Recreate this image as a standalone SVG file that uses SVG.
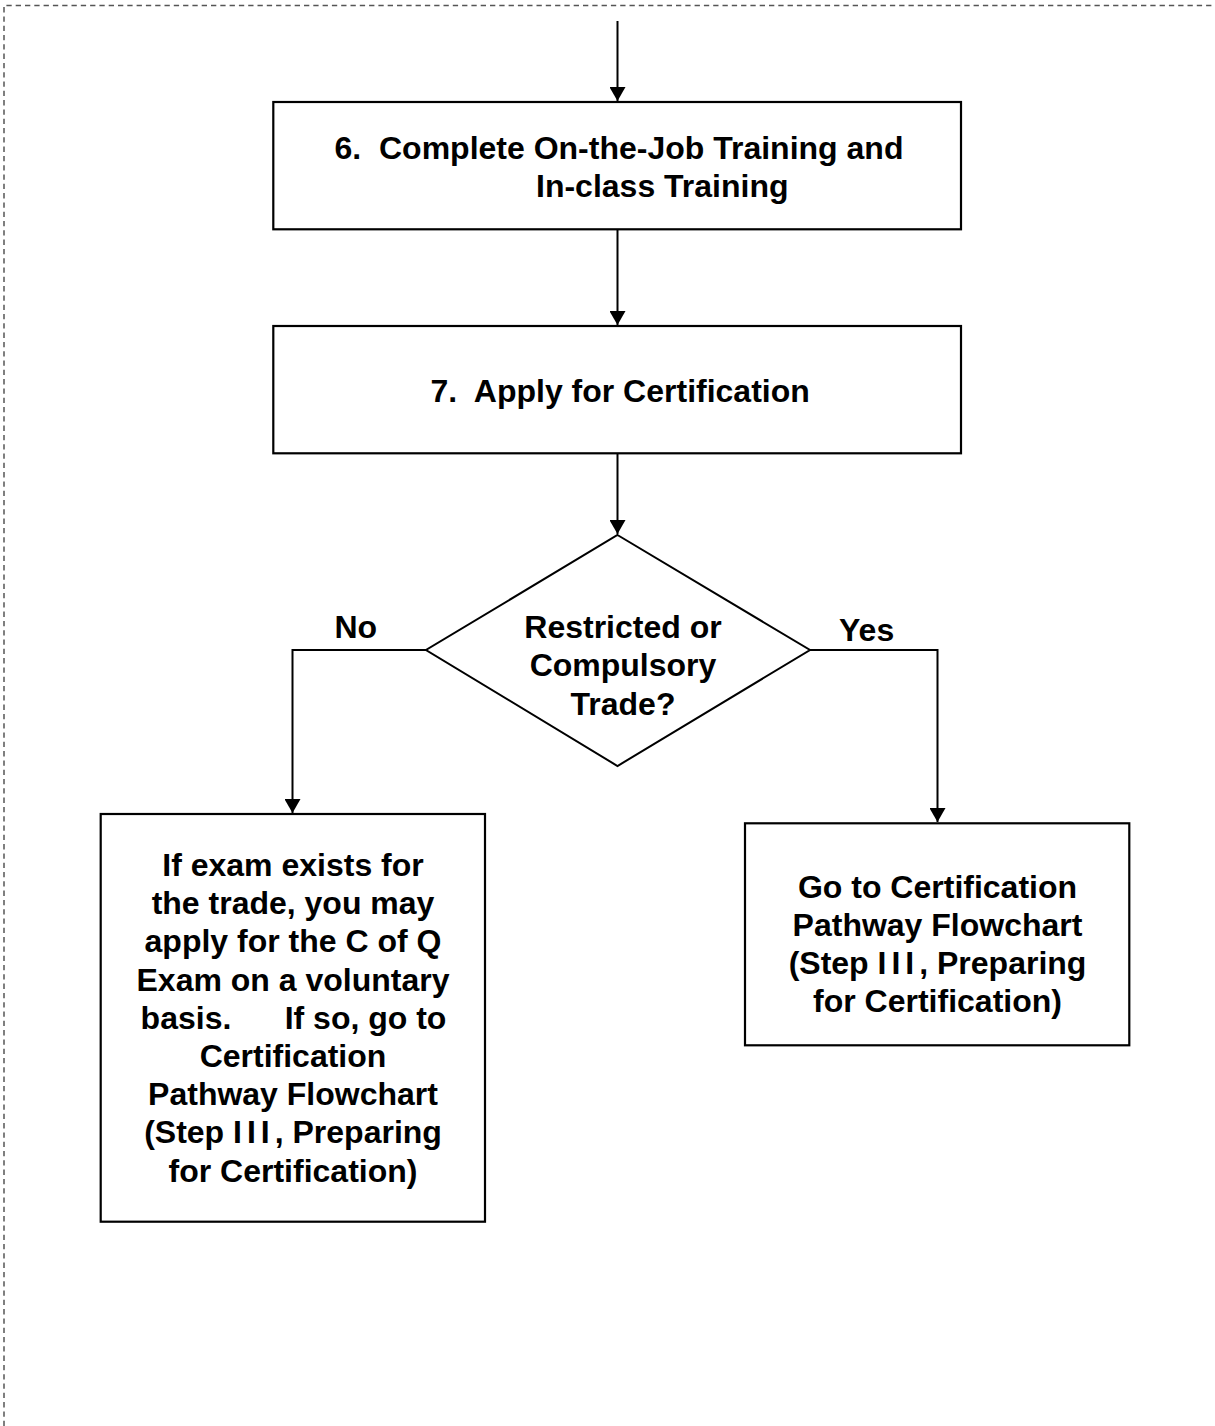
<svg xmlns="http://www.w3.org/2000/svg" width="1215" height="1426" viewBox="0 0 1215 1426">
<style>
.box{fill:#fff;stroke:#000;stroke-width:2.2}
.conn{fill:none;stroke:#000;stroke-width:2}
.t{font-family:"Liberation Sans",Arial,sans-serif;font-weight:bold;font-size:32px;fill:#000}
.c{text-anchor:middle}
.roman{letter-spacing:5px}
</style>
<defs>
<marker id="arr" markerUnits="userSpaceOnUse" markerWidth="16" markerHeight="16" viewBox="0 0 14 16" refX="14" refY="8" orient="auto">
<path d="M0,0 L14,8 L0,16 Z" fill="#000"/>
</marker>
</defs>
<rect width="1215" height="1426" fill="#fff"/>
<path d="M4,1426 V5.5 H1215" fill="none" stroke="#555" stroke-width="1.5" stroke-dasharray="5.3 4"/>
<g id="connectors">
<line class="conn" x1="617.5" y1="21" x2="617.5" y2="101" marker-end="url(#arr)"/>
<line class="conn" x1="617.5" y1="229" x2="617.5" y2="325" marker-end="url(#arr)"/>
<line class="conn" x1="617.5" y1="453" x2="617.5" y2="534" marker-end="url(#arr)"/>
<path class="conn" d="M426,650 H292.5 V813" marker-end="url(#arr)"/>
<path class="conn" d="M810,650 H937.5 V822" marker-end="url(#arr)"/>
<text class="t" x="334.5" y="637.5">No</text>
<text class="t" x="839" y="641">Yes</text>
</g>
<g id="step6">
<rect class="box" x="273.3" y="102" width="687.7" height="127.3"/>
<text class="t" x="334.5" y="159" xml:space="preserve">6.  Complete On-the-Job Training and</text>
<text class="t" x="536" y="196.5">In-class Training</text>
</g>
<g id="step7">
<rect class="box" x="273.3" y="326" width="687.7" height="127.3"/>
<text class="t" x="430.5" y="401.7" xml:space="preserve">7.  Apply for Certification</text>
</g>
<g id="decision">
<polygon class="box" points="617.5,535 810,650 617.5,766 426,650" style="stroke-width:2"/>
<text class="t c" x="623" y="637.5">Restricted or</text>
<text class="t c" x="623" y="676">Compulsory</text>
<text class="t c" x="623" y="714.5">Trade?</text>
</g>
<g id="no-branch">
<rect class="box" x="100.7" y="814" width="384.3" height="407.7"/>
<text class="t c" x="293" y="876">If exam exists for</text>
<text class="t c" x="293" y="914.2">the trade, you may</text>
<text class="t c" x="293" y="952.4">apply for the C of Q</text>
<text class="t c" x="293" y="990.6">Exam on a voluntary</text>
<text class="t c" x="293.5" y="1028.8" xml:space="preserve">basis.      If so, go to</text>
<text class="t c" x="293" y="1067">Certification</text>
<text class="t c" x="293" y="1105.2">Pathway Flowchart</text>
<text class="t c" x="293" y="1143.4">(Step <tspan class="roman">III</tspan>, Preparing</text>
<text class="t c" x="293" y="1181.6">for Certification)</text>
</g>
<g id="yes-branch">
<rect class="box" x="745" y="823.3" width="384.3" height="222"/>
<text class="t c" x="937.5" y="897.5">Go to Certification</text>
<text class="t c" x="937.5" y="935.6">Pathway Flowchart</text>
<text class="t c" x="937.5" y="973.7">(Step <tspan class="roman">III</tspan>, Preparing</text>
<text class="t c" x="937.5" y="1011.8">for Certification)</text>
</g>
</svg>
